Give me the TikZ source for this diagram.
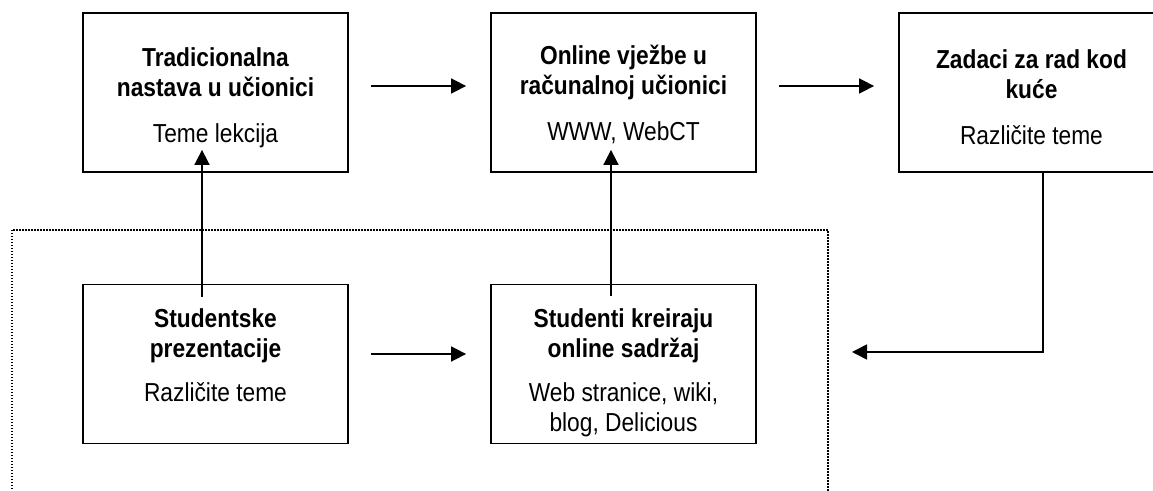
\documentclass[tikz,border=0pt]{standalone}
\usepackage{fontspec}
\setmainfont{Liberation Sans}[FakeStretch=0.875]
\usetikzlibrary{arrows.meta,positioning}
\def\BoxW{132.5pt}
\def\BoxH{79.5pt}
\def\GapA{11pt}
\def\GapB{12pt}

\begin{document}
\begin{tikzpicture}[x=0.5pt,y=-0.5pt,
  box/.style={draw,line width=0.9pt,minimum width=\BoxW,minimum height=\BoxH,inner sep=0pt},
  txt/.style={align=center,inner sep=0pt,font=\fontsize{13}{15}\selectfont},
  arr/.style={-{Triangle[length=7.5pt,width=7.5pt]},line width=0.85pt},
  group/.style={draw,line width=0.9pt,dash pattern=on 0.75pt off 0.75pt,inner sep=0pt}]
  \useasboundingbox (0,0) rectangle (1153,491);
  \clip (0,0) rectangle (1153,491);
  % boxes
  \node[box] (trad) at (215.5,92.5) {};
  \node[box] (online) at (623.5,92.5) {};
  \node[box] (zadaci) at (1031.5,92.5) {};
  \node[box] (studp) at (215.5,364) {};
  \node[box] (studc) at (623.5,364) {};
  % dotted group
  \node[group,anchor=north west,minimum width=408pt,minimum height=150pt] (grp) at (11,229) {};
  % texts
  \node[txt,below=17.75pt of trad.north] (tradtxt) {\textbf{Tradicionalna}\\\textbf{nastava u učionici}\\[8pt]Teme lekcija};
  \node[txt,below=16.25pt of online.north] (onlinetxt) {\textbf{Online vježbe u}\\\textbf{računalnoj učionici}\\[8pt]WWW, WebCT};
  \node[txt,below=18.5pt of zadaci.north] (zadacitxt) {\textbf{Zadaci za rad kod}\\\textbf{kuće}\\[8pt]Različite teme};
  \node[txt,below=12.25pt of studp.north] (studptxt) {\textbf{Studentske}\\\textbf{prezentacije}\\[7pt]Različite teme};
  \node[txt,below=12.25pt of studc.north] (studctxt) {\textbf{Studenti kreiraju}\\\textbf{online sadržaj}\\[7pt]Web stranice, wiki,\\blog, Delicious};
  % arrows
  \draw[arr,shorten <=\GapA,shorten >=\GapB] ([yshift=3.25pt]trad.east) -- ([yshift=3.25pt]online.west);
  \draw[arr,shorten <=\GapA,shorten >=\GapB] ([yshift=3.25pt]online.east) -- ([yshift=3.25pt]zadaci.west);
  \draw[arr,shorten <=\GapA,shorten >=\GapB] ([yshift=5pt]studp.east) -- ([yshift=5pt]studc.west);
  \draw[arr] ([xshift=-6.75pt,yshift=-6.5pt]studp.north) -- ([xshift=-6.75pt,yshift=11.5pt]trad.south);
  \draw[arr] ([xshift=-6.25pt,yshift=-6pt]studc.north) -- ([xshift=-6.25pt,yshift=11.5pt]online.south);
  % back to group
  \coordinate (ret) at (852,352);
  \draw[arr] ([xshift=5.75pt]zadaci.south) |- (ret);
\end{tikzpicture}
\end{document}
